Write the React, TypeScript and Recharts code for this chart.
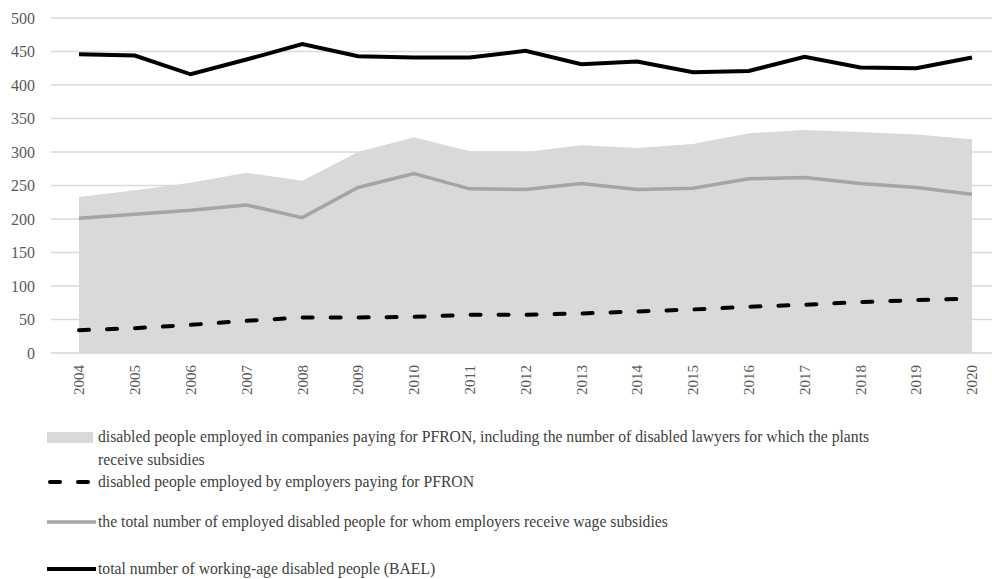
import React from 'react';
import { ComposedChart, Area, Line, XAxis, YAxis, CartesianGrid, Legend } from 'recharts';

const years = ['2004','2005','2006','2007','2008','2009','2010','2011','2012','2013','2014','2015','2016','2017','2018','2019','2020'];
const pfronCompanies = [233,243,254,269,257,300,322,301,300,310,306,312,328,333,330,326,319];
const pfronEmployers = [34,37,42,48,53,53,54,57,57,59,62,65,69,72,76,79,81];
const wageSubsidies = [201,207,213,221,202,247,268,245,244,253,244,246,260,262,253,247,237];
const baelTotal = [446,444,416,438,461,443,441,441,451,431,435,419,421,442,426,425,441];
const yTicks = [0,50,100,150,200,250,300,350,400,450,500];

const legendLabels = {
  area1: 'disabled people employed in companies paying for PFRON, including the number of disabled lawyers for which the plants',
  area2: 'receive subsidies',
  dashed: 'disabled people employed by employers paying for PFRON',
  gray: 'the total number of employed disabled people for whom employers receive wage subsidies',
  black: 'total number of working-age disabled people (BAEL)',
};

const data = years.map((y, i) => ({
  year: y,
  pfronCompanies: pfronCompanies[i],
  pfronEmployers: pfronEmployers[i],
  wageSubsidies: wageSubsidies[i],
  baelTotal: baelTotal[i],
}));

const SERIF = '"Liberation Serif", "DejaVu Serif", serif';
const TEXT = '#404040';

const XTick = (props: any) => {
  const { x, payload } = props;
  return (
    <g transform={`translate(${x},365)`}>
      <text transform="rotate(-90)" textAnchor="end" dy="0.35em" fill="#595959" fontSize={15} fontFamily={SERIF}>
        {payload.value}
      </text>
    </g>
  );
};

const LegendContent = () => {
  const textStyle: React.CSSProperties = { position: 'absolute', left: 98, fontFamily: SERIF, fontSize: 15.7, color: TEXT, whiteSpace: 'nowrap', lineHeight: '20px' };
  return (
    <div style={{ position: 'relative', width: 992, height: 160 }}>
      <svg width={100} height={160} style={{ position: 'absolute', left: 0, top: 0 }}>
        <rect x={47} y={432 - 420} width={46} height={11} fill="#d9d9d9" />
        <line x1={50} x2={93} y1={482 - 420} y2={482 - 420} stroke="#000" strokeWidth={4} strokeDasharray="10 18" strokeLinecap="round" />
        <line x1={47} x2={96} y1={522 - 420} y2={522 - 420} stroke="#a5a5a5" strokeWidth={3.5} />
        <line x1={47} x2={96} y1={569 - 420} y2={569 - 420} stroke="#000" strokeWidth={4} />
      </svg>
      <div style={{ ...textStyle, top: 437 - 420 - 10 }}>{legendLabels.area1}</div>
      <div style={{ ...textStyle, top: 460 - 420 - 10 }}>{legendLabels.area2}</div>
      <div style={{ ...textStyle, top: 482 - 420 - 10 }}>{legendLabels.dashed}</div>
      <div style={{ ...textStyle, top: 522 - 420 - 10 }}>{legendLabels.gray}</div>
      <div style={{ ...textStyle, top: 569 - 420 - 10 }}>{legendLabels.black}</div>
    </div>
  );
};

export default function App() {
  return (
    <div style={{ position: 'absolute', left: 0, top: 0, width: 992, height: 579, overflow: 'hidden', background: '#fff' }}>
      <ComposedChart width={1010} height={579} data={data} margin={{ top: 18, right: 10, bottom: 176, left: 0 }}>
        <CartesianGrid vertical={false} stroke="#d9d9d9" strokeWidth={1.3} />
        <XAxis dataKey="year" interval={0} tickLine={false} axisLine={{ stroke: '#d9d9d9' }} height={50} tick={<XTick />}
          padding={{ left: 28, right: 28 }} />
        <YAxis domain={[0, 500]} ticks={yTicks} width={51} axisLine={false} tickLine={false} tickMargin={10}
          tick={{ fill: '#595959', fontSize: 16, fontFamily: SERIF }} interval={0} />
        <Area type="linear" dataKey="pfronCompanies" fill="#d9d9d9" fillOpacity={1} stroke="none" isAnimationActive={false} />
        <Line type="linear" dataKey="wageSubsidies" stroke="#a5a5a5" strokeWidth={3.5} dot={false} isAnimationActive={false} />
        <Line type="linear" dataKey="pfronEmployers" stroke="#000" strokeWidth={4} strokeDasharray="10 18" strokeLinecap="round" dot={false} isAnimationActive={false} />
        <Line type="linear" dataKey="baelTotal" stroke="#000" strokeWidth={4} dot={false} isAnimationActive={false} />
        <Legend layout="vertical" align="center" verticalAlign="middle" content={<LegendContent />}
          wrapperStyle={{ position: 'absolute', left: 0, top: 420, width: 992, height: 160 }} />
      </ComposedChart>
    </div>
  );
}
